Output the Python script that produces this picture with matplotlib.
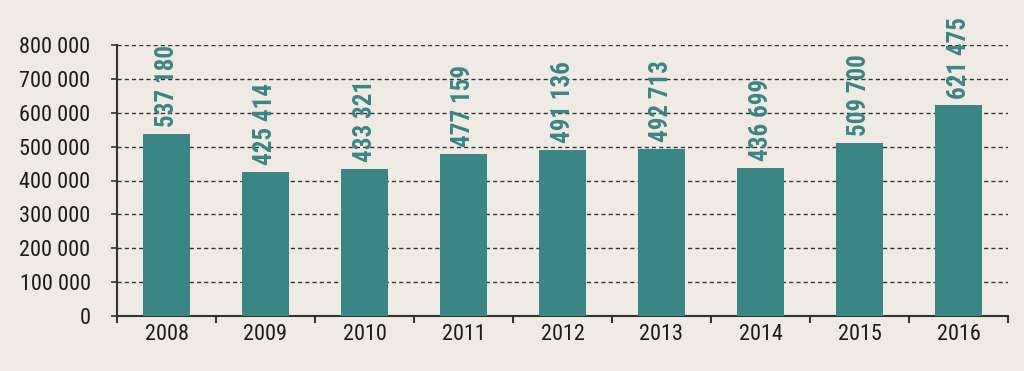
import numpy as np
import matplotlib.pyplot as plt
from matplotlib import font_manager

years = ['2008', '2009', '2010', '2011', '2012', '2013', '2014', '2015', '2016']
values = [537180, 425414, 433321, 477159, 491136, 492713, 436699, 509700, 621475]

names = {f.name for f in font_manager.fontManager.ttflist}
def pick(opts):
    for o in opts:
        if o in names:
            return o
    return 'DejaVu Sans'

tick_font = pick(['Roboto Condensed', 'Archivo Narrow', 'PT Sans Narrow', 'Fira Sans Condensed'])
lab_font = pick(['Roboto Condensed', 'PT Sans Narrow', 'Fira Sans Condensed', 'Barlow Condensed'])
plt.rcParams['font.family'] = [tick_font, 'DejaVu Sans']

bg = '#efebe4'
teal = '#3a8585'
dark = '#1c1c1c'

def fmt(v):
    return '{:,}'.format(int(v)).replace(',', ' ')

fig = plt.figure(figsize=(10.24, 3.71), dpi=100, facecolor=bg)
ax = fig.add_axes([117/1024, 1 - 316/371, 891/1024, 271/371], facecolor=bg)

x = np.arange(len(years))
ax.bar(x, values, width=0.465, color=teal, zorder=3)

for xi, v in zip(x, values):
    ax.annotate(fmt(v), (xi, v), xytext=(0, 5), textcoords='offset points',
                rotation=90, ha='center', va='bottom', color=teal,
                fontsize=18, fontweight='bold', family=[lab_font, 'DejaVu Sans'], zorder=4)

ax.set_ylim(0, 800000)
ax.set_xlim(-0.5, len(years) - 0.5)
yt = np.arange(0, 800001, 100000)
ax.set_yticks(yt)
ax.set_yticklabels([fmt(v) for v in yt], fontsize=16, color=dark)
for y in yt:
    ax.axhline(y, color='#333333', linestyle=(0, (3, 2.2)), linewidth=1, zorder=1)

ax.set_xticks(x)
ax.set_xticklabels(years, fontsize=16, color=dark)
ax.tick_params(axis='x', length=0, pad=6)
ax.set_xticks(np.arange(-0.5, len(years)), minor=True)
ax.tick_params(axis='x', which='minor', length=5, width=1.5, color='#333333', direction='out')
ax.tick_params(axis='y', length=4, width=1.2, color='#333333', pad=15)

for s in ['top', 'right']:
    ax.spines[s].set_visible(False)
ax.spines['left'].set_color('#333333')
ax.spines['left'].set_linewidth(1.5)
ax.spines['bottom'].set_color('#333333')
ax.spines['bottom'].set_linewidth(1.5)

fig.savefig('out.png', dpi=100, facecolor=bg)
